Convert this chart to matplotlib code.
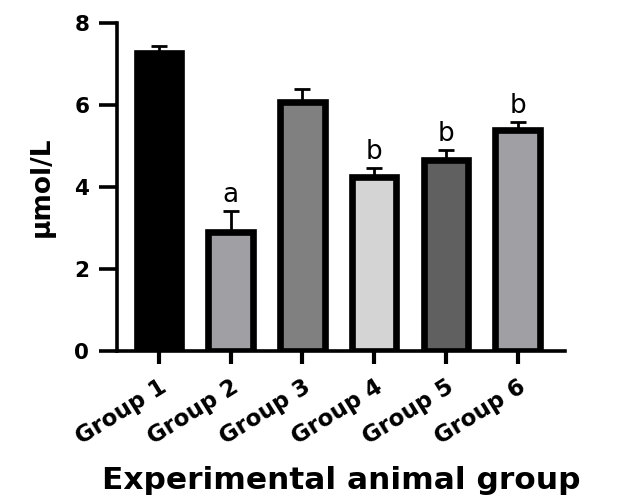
import numpy as np
import matplotlib.pyplot as plt
import matplotlib.transforms as mtransforms

plt.rcParams['font.family'] = ['DejaVu Sans']

# dati
groups = ['Group 1', 'Group 2', 'Group 3', 'Group 4', 'Group 5', 'Group 6']
means = [7.26, 2.90, 6.08, 4.24, 4.65, 5.38]
errs = [0.17, 0.51, 0.30, 0.22, 0.26, 0.21]
letters = ['', 'a', '', 'b', 'b', 'b']
colors = ['#000000', '#a0a0a4', '#808080', '#d4d4d4', '#606060', '#a0a0a4']

x = np.arange(len(groups))

fig = plt.figure(figsize=(6.23, 4.97), dpi=100)
ax = fig.add_axes([0.188, 0.294, 0.719, 0.660])

ax.bar(x, means, width=0.62, color=colors, edgecolor='black', linewidth=4.8, zorder=2)
ax.errorbar(x, means, yerr=[np.zeros(len(errs)), errs], fmt='none', ecolor='black',
            elinewidth=2, capsize=6, capthick=2, zorder=1)

for xi, m, e, l in zip(x, means, errs, letters):
    if l:
        ax.annotate(l, (xi, m + e), xytext=(0, 2), textcoords='offset points',
                    ha='center', va='bottom', fontsize=19)

ax.set_xlim(-0.58, 5.66)
ax.set_ylim(0, 8)
ax.set_yticks([0, 2, 4, 6, 8])
ax.set_xticks(x)
ax.set_xticklabels(groups, rotation=32, ha='right', rotation_mode='anchor',
                   fontsize=16.5, fontweight='bold')
offset = mtransforms.ScaledTranslation(10 / 100, 0, fig.dpi_scale_trans)
for t in ax.get_xticklabels():
    t.set_transform(t.get_transform() + offset)
for t in ax.get_yticklabels():
    t.set_fontsize(15.5)
    t.set_fontweight('bold')

for s in ['top', 'right']:
    ax.spines[s].set_visible(False)
for s in ['left', 'bottom']:
    ax.spines[s].set_linewidth(2.6)
ax.tick_params(axis='y', length=13, width=2.6, direction='out', pad=7)
ax.tick_params(axis='x', length=9.5, width=3, direction='out', pad=8)

ax.set_ylabel('μmol/L', fontsize=19, fontweight='bold', labelpad=14)
ax.set_xlabel('Experimental animal group', fontsize=22.5, fontweight='bold', labelpad=12)

plt.savefig('out.png', dpi=100)
